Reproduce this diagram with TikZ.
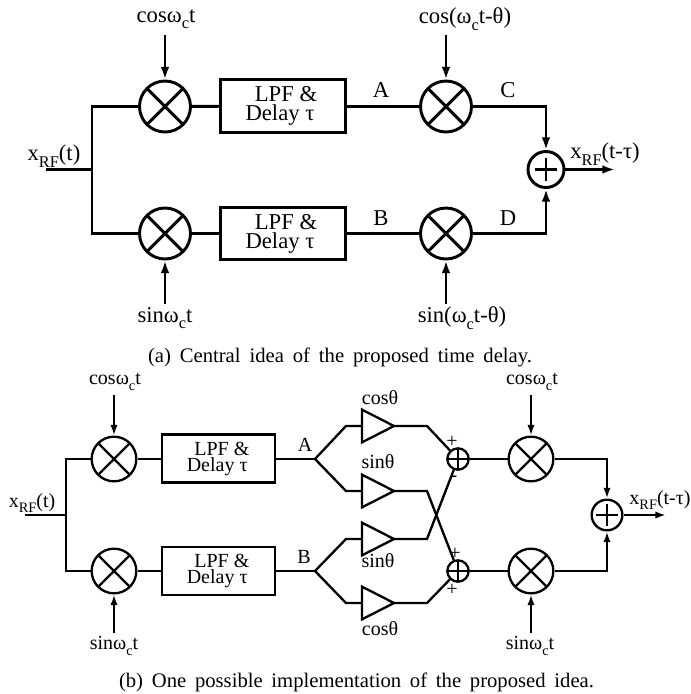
\documentclass[tikz,border=0pt]{standalone}
\usepackage{fontspec}
\setmainfont{Liberation Serif}
\usetikzlibrary{shapes.geometric,arrows.meta}
\newcommand{\lsub}[1]{\raisebox{-.28em}{\scalebox{.72}{#1}}}
\tikzset{
  txtA/.style={inner sep=0pt,font=\fontsize{17}{17}\selectfont},
  txtB/.style={inner sep=0pt,font=\fontsize{15}{15}\selectfont},
  capt/.style={inner sep=0pt,font=\fontsize{15.5}{15.5}\selectfont},
  sgn/.style={inner sep=0pt,font=\fontsize{15}{15}\selectfont},
  wireA/.style={line width=2.2pt,line join=miter},
  wireB/.style={line width=1.75pt,line join=miter},
  arrowA/.style={wireA,-{Latex[length=9.5pt,width=6.5pt]}},
  arrowB/.style={line width=1.5pt,-{Latex[length=8pt,width=5.5pt]}},
  arrowC/.style={wireB,-{Latex[length=8pt,width=5.5pt]}},
  mixer/.style={circle,draw,inner sep=0pt,minimum size=#1,
    path picture={\draw[line width=\pgflinewidth]
      (path picture bounding box.north west)--(path picture bounding box.south east)
      (path picture bounding box.north east)--(path picture bounding box.south west);}},
  adder/.style={circle,draw,inner sep=0pt,minimum size=#1,
    path picture={\draw[line width=\pgflinewidth]
      (path picture bounding box.north)--(path picture bounding box.south)
      (path picture bounding box.east)--(path picture bounding box.west);}},
  sumA/.style={circle,draw,inner sep=0pt,minimum size=27pt,
    path picture={\draw[line width=\pgflinewidth]
      (path picture bounding box.center)+(-8.5pt,0)--+(8.5pt,0)
      (path picture bounding box.center)+(0,-8.5pt)--+(0,8.5pt);}},
  sumB/.style={circle,draw,inner sep=0pt,minimum size=23pt,
    path picture={\draw[line width=\pgflinewidth]
      (path picture bounding box.center)+(-8pt,0)--+(8pt,0)
      (path picture bounding box.center)+(0,-8pt)--+(0,8pt);}},
  boxA/.style={rectangle,draw,inner sep=0pt,minimum width=94pt,minimum height=39.5pt,align=center,
    font=\fontsize{17}{14.25}\selectfont},
  boxB/.style={rectangle,draw,inner sep=0pt,minimum width=84.5pt,minimum height=36pt,align=center,
    font=\fontsize{15}{12}\selectfont},
  amp/.style={isosceles triangle,isosceles triangle stretches,draw,inner sep=0pt,outer sep=0pt,
    minimum width=24.5pt,minimum height=24pt,anchor=lower side,wireB},
}
\begin{document}
\begin{tikzpicture}[x=0.75pt,y=-0.75pt]
\useasboundingbox (0,0) rectangle (691,694);
% ---------- (a) ----------
\begin{scope}[every node/.append style={wireA}]
\node[mixer=38.25pt] (m1) at (165,106.5) {};
\node[mixer=38.25pt] (m2) at (165,233.5) {};
\node[mixer=38.25pt] (m3) at (446,106.5) {};
\node[mixer=38.25pt] (m4) at (446,233.5) {};
\node[sumA] (s) at (546,169.5) {};
\node[boxA] (b1) at (283,106) {\hspace*{4.5pt}LPF \&\\Delay τ\hspace*{4.5pt}};
\node[boxA] (b2) at (283,233.5) {\hspace*{4.5pt}LPF \&\\Delay τ\hspace*{4.5pt}};
\end{scope}
\coordinate (in) at (46,169.5);
\coordinate (j) at (92,169.5);
\coordinate (o) at (615,169.5);
\coordinate (c1) at (165,35);
\coordinate (c2) at (165,304);
\coordinate (c3) at (446,35);
\coordinate (c4) at (446,304);
\draw[wireA] (in) -- (j);
\draw[wireA] (m1.west) -| (j) |- (m2.west);
\draw[wireA] (m1) -- (b1);
\draw[wireA] (m2) -- (b2);
\draw[wireA] (b1.east |- m3) -- (m3);
\draw[wireA] (b2) -- (m4);
\draw[arrowA] (m3.east) -| (s.north);
\draw[arrowA] (m4.east) -| (s.south);
\draw[arrowA] (s.east) -- (o);
\draw[arrowA] (c1) -- (m1.north);
\draw[arrowA] (c2) -- (m2.south);
\draw[arrowA] (c3) -- (m3.north);
\draw[arrowA] (c4) -- (m4.south);
\node[txtA] (t1) at (166,19) {cosω\lsub{c}t};
\node[txtA] (t2) at (165,318) {sinω\lsub{c}t};
\node[txtA] (t3) at (465,19) {cos(ω\lsub{c}t-θ)};
\node[txtA] (t4) at (462,318) {sin(ω\lsub{c}t-θ)};
\node[txtA] (t5) at (54,156) {x\lsub{RF}(t)};
\node[txtA] (t6) at (605,154) {x\lsub{RF}(t-τ)};
\node[txtA] (lA) at (381,90) {A};
\node[txtA] (lC) at (508,90) {C};
\node[txtA] (lB) at (381,218) {B};
\node[txtA] (lD) at (508,218) {D};
\node[capt] (capa) at (340,357) {\makebox[288pt][s]{(a) Central idea of the proposed time delay.}};
% ---------- (b) ----------
\begin{scope}[every node/.append style={wireB}]
\node[mixer=33.5pt] (n1) at (114,459) {};
\node[mixer=33.5pt] (n2) at (114,571) {};
\node[mixer=33.5pt] (n3) at (531,459) {};
\node[mixer=33.5pt] (n4) at (531,571) {};
\node[sumB] (sb) at (607,515) {};
\node[adder=16pt] (a1) at (458,459) {};
\node[adder=16pt] (a2) at (458,571) {};
\node[boxB] (d1) at (218.5,458.5) {\hspace*{5pt}LPF \&\\Delay τ\hspace*{2pt}};
\node[boxB] (d2) at (218.5,571) {\hspace*{5pt}LPF \&\\Delay τ\hspace*{2pt}};
\end{scope}
\node[amp] (g1) at (362,426) {};
\node[amp] (g2) at (362,491) {};
\node[amp] (g3) at (362,539) {};
\node[amp] (g4) at (362,603) {};
\coordinate (inb) at (25,515);
\coordinate (jb) at (66,515);
\coordinate (fa) at (315,459);
\coordinate (fb) at (315,571);
\coordinate (fa1) at (346,426);
\coordinate (fa2) at (346,491);
\coordinate (fb1) at (346,539);
\coordinate (fb2) at (346,603);
\coordinate (k1) at (427,426);
\coordinate (k2) at (427,491);
\coordinate (k3) at (427,539);
\coordinate (k4) at (427,603);
\coordinate (ob) at (666,515);
\coordinate (e1) at (114,395);
\coordinate (e2) at (114,633);
\coordinate (e3) at (531,395);
\coordinate (e4) at (531,633);
\draw[wireB] (inb) -- (jb);
\draw[wireB] (n1.west) -| (jb) |- (n2.west);
\draw[wireB] (n1) -- (d1.west |- n1);
\draw[wireB] (n2) -- (d2);
\draw[wireB] (d1.east |- fa) -- (fa);
\draw[wireB] (d2) -- (fb);
\draw[wireB] (g1.lower side) -- (fa1) -- (fa) -- (fa2) -- (g2.lower side);
\draw[wireB] (g3.lower side) -- (fb1) -- (fb) -- (fb2) -- (g4.lower side);
\draw[wireB] (g1.apex) -- (k1) -- (a1);
\draw[wireB] (g2.apex) -- (k2) -- (a2);
\draw[wireB] (g3.apex) -- (k3) -- (a1);
\draw[wireB] (g4.apex) -- (k4) -- (a2);
\draw[wireB] (a1) -- (n3);
\draw[wireB] (a2) -- (n4);
\draw[arrowC] (n3.east) -| (sb.north);
\draw[arrowC] (n4.east) -| (sb.south);
\draw[arrowC] (sb.east) -- (ob);
\draw[arrowB] (e1) -- (n1.north);
\draw[arrowB] (e2) -- (n2.south);
\draw[arrowB] (e3) -- (n3.north);
\draw[arrowB] (e4) -- (n4.south);
\node[txtB] (u1) at (115,382) {cosω\lsub{c}t};
\node[txtB] (u2) at (114,646) {sinω\lsub{c}t};
\node[txtB] (u3) at (532,382) {cosω\lsub{c}t};
\node[txtB] (u4) at (530,646) {sinω\lsub{c}t};
\node[txtB] (u5) at (32,503) {x\lsub{RF}(t)};
\node[txtB] (u6) at (660,500) {x\lsub{RF}(t-τ)};
\node[txtB] (lA2) at (305,445) {A};
\node[txtB] (lB2) at (304,557) {B};
\node[txtB] (v1) at (380,398) {cosθ};
\node[txtB] (v2) at (378,462) {sinθ};
\node[txtB] (v3) at (378,561) {sinθ};
\node[txtB] (v4) at (380,629) {cosθ};
\node[sgn] (p1) at (452,442) {+};
\node[sgn] (p2) at (454,479) {-};
\node[sgn] (p3) at (455,554) {+};
\node[sgn] (p4) at (452,590) {+};
\node[capt] (capb) at (356.5,682) {\makebox[356.25pt][s]{(b) One possible implementation of the proposed idea.}};
\end{tikzpicture}
\end{document}
